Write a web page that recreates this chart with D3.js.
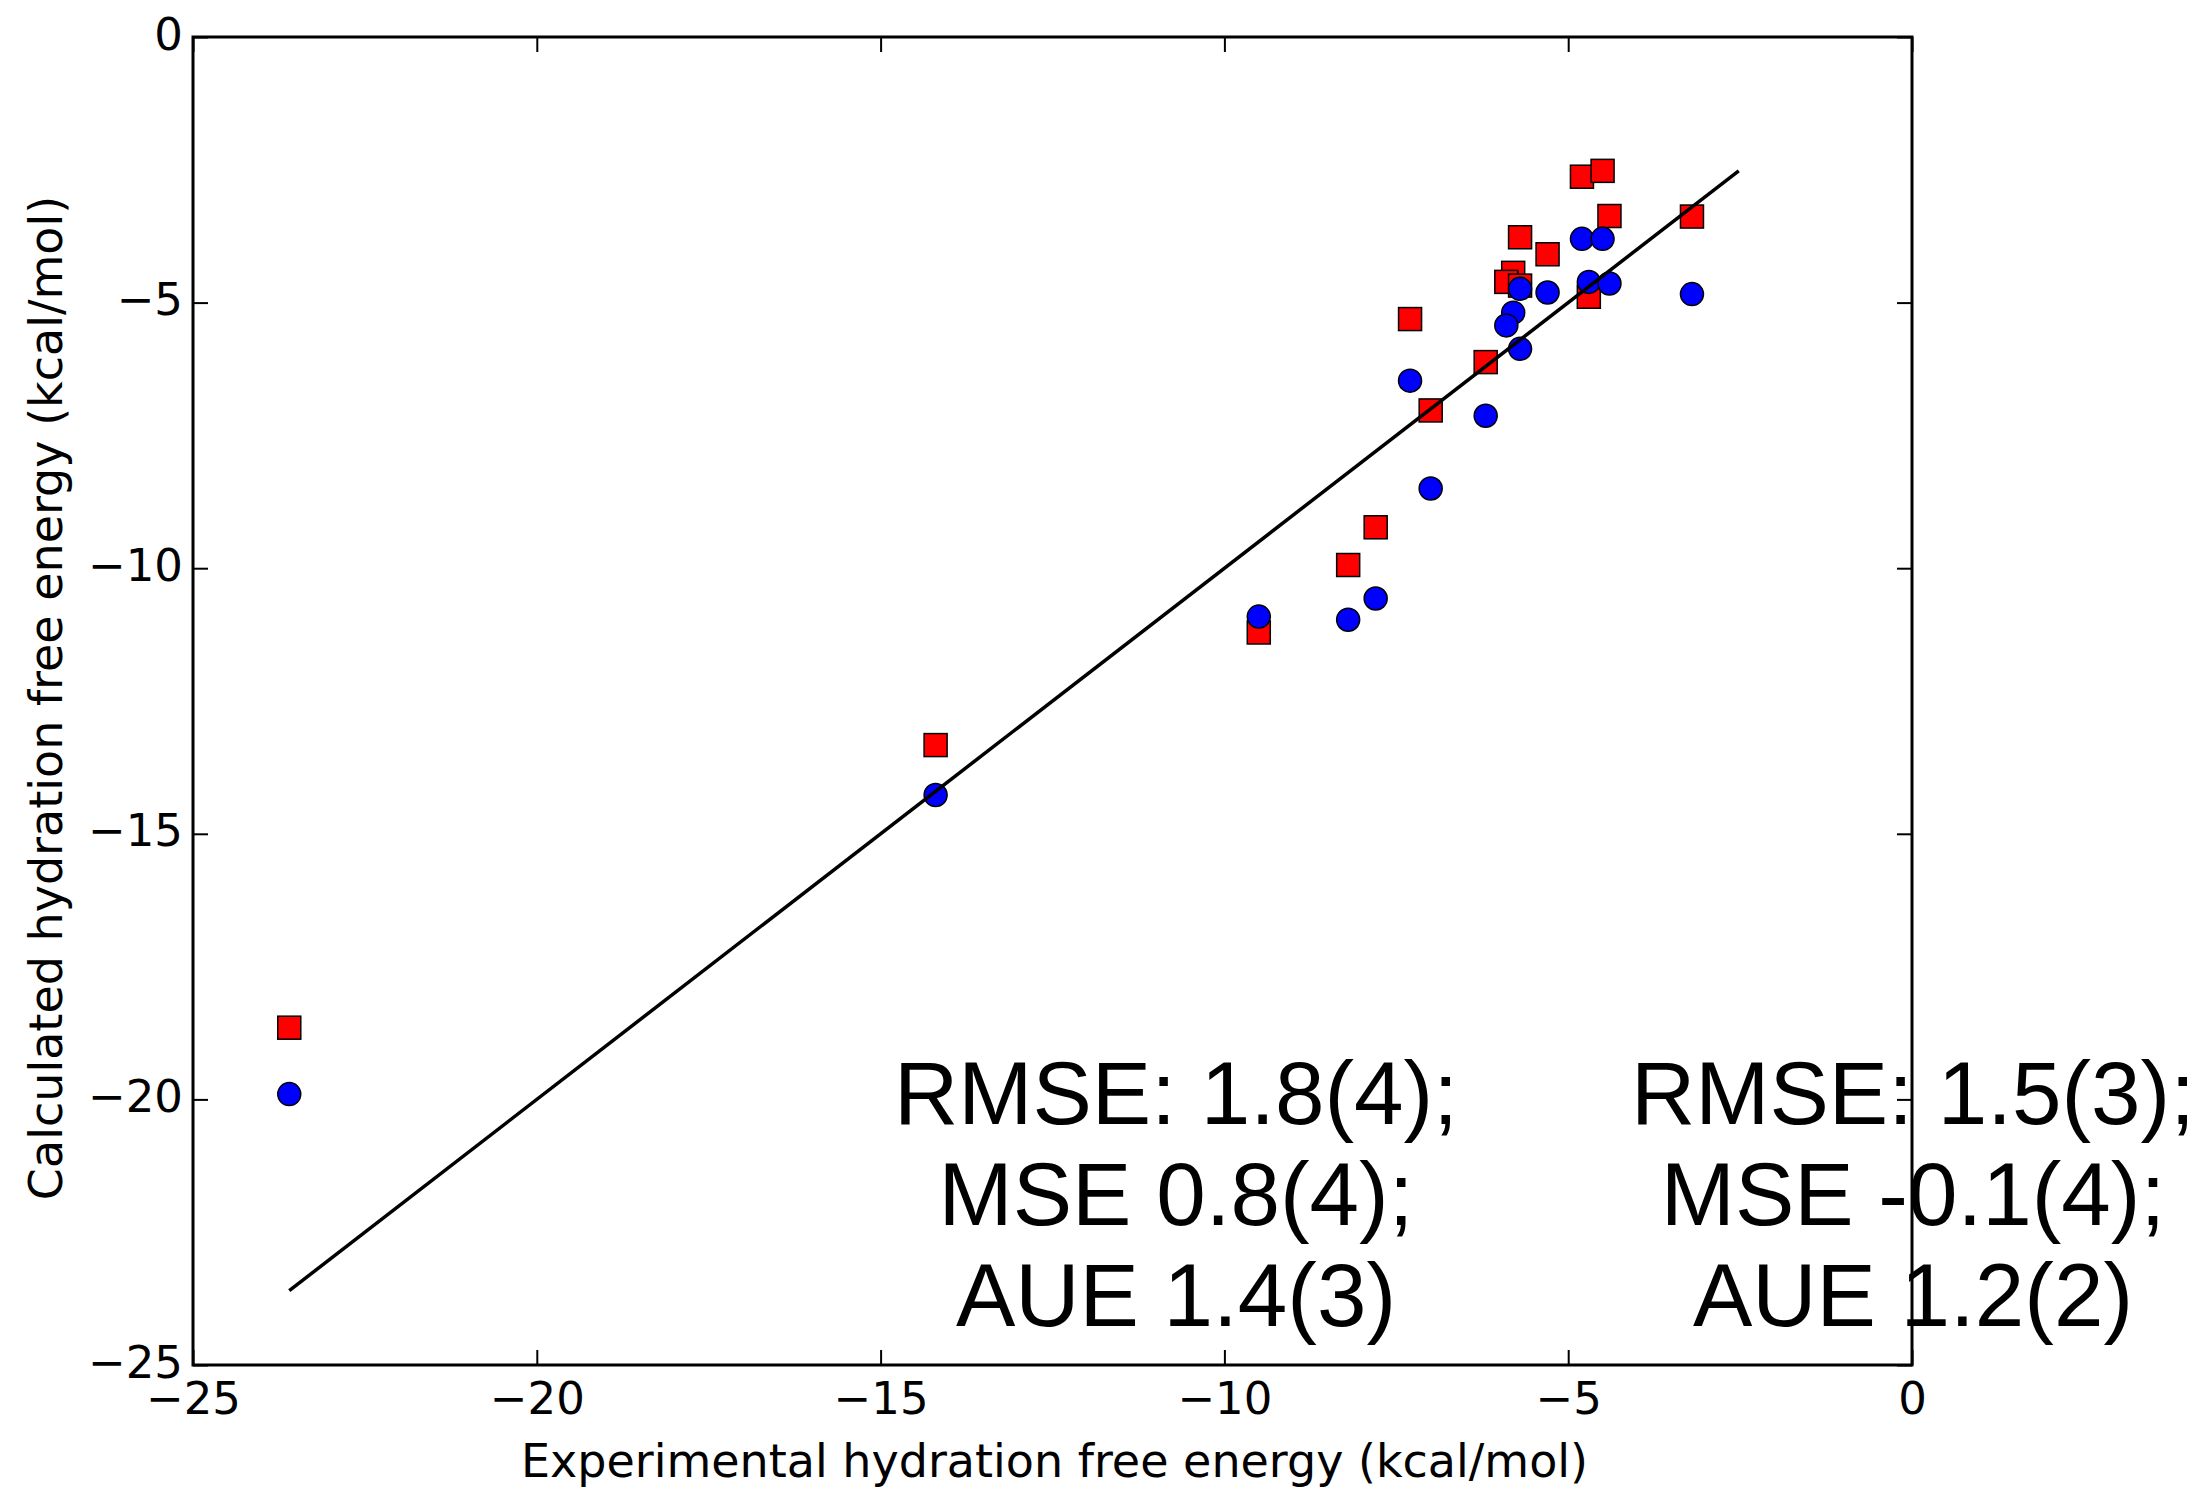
<!DOCTYPE html>
<html>
<head>
<meta charset="utf-8">
<script src="https://cdn.jsdelivr.net/npm/d3@7"></script>
<style>
  html, body { margin: 0; padding: 0; background: #ffffff; }
  svg { display: block; }
</style>
</head>
<body>
<svg id="chart" width="2203" height="1489"></svg>
<script>
// ---------------- DATA ----------------
const experimental = [-23.6, -14.2, -9.5, -8.2, -7.8, -7.3, -7.0, -6.2, -5.8, -5.9, -5.7, -5.7, -5.3, -4.8, -4.5, -4.7, -4.4, -3.2];
const calcSquares  = [-18.65, -13.33, -11.21, -9.94, -9.23, -5.31, -7.03, -6.12, -4.44, -4.61, -4.68, -3.77, -4.09, -2.63, -2.52, -4.89, -3.37, -3.38];
const calcCircles  = [-19.90, -14.27, -10.91, -10.97, -10.57, -6.47, -8.50, -7.13, -5.19, -5.43, -4.74, -5.87, -4.81, -3.80, -3.80, -4.61, -4.64, -4.84];

const xTicks = [-25, -20, -15, -10, -5, 0];
const yTicks = [-25, -20, -15, -10, -5, 0];

const statsSquares = ["RMSE: 1.8(4);", "MSE 0.8(4);", "AUE 1.4(3)"];
const statsCircles = ["RMSE: 1.5(3);", "MSE -0.1(4);", "AUE 1.2(2)"];

const xLabel = "Experimental hydration free energy (kcal/mol)";
const yLabel = "Calculated hydration free energy (kcal/mol)";

// ---------------- LAYOUT ----------------
const L = 193, R = 1912, T = 37, B = 1365;
const svg = d3.select("#chart");

const x = d3.scaleLinear().domain([-25, 0]).range([L, R]);
const y = d3.scaleLinear().domain([-25, 0]).range([B, T]);

const tickFont = "'DejaVu Sans', sans-serif";
const statFont = "'Liberation Sans', Arial, sans-serif";

// squares (drawn first)
const sq = 23;
svg.append("g").selectAll("rect")
  .data(experimental.map((e, i) => ({ e, c: calcSquares[i] })))
  .join("rect")
  .attr("x", d => x(d.e) - sq / 2)
  .attr("y", d => y(d.c) - sq / 2)
  .attr("width", sq).attr("height", sq)
  .attr("fill", "#ff0000")
  .attr("stroke", "#000").attr("stroke-width", 1.5);

// circles
svg.append("g").selectAll("circle")
  .data(experimental.map((e, i) => ({ e, c: calcCircles[i] })))
  .join("circle")
  .attr("cx", d => x(d.e))
  .attr("cy", d => y(d.c))
  .attr("r", 11.5)
  .attr("fill", "#0000ff")
  .attr("stroke", "#000").attr("stroke-width", 1.5);

// identity line from min to max of all values
const allVals = experimental.concat(calcSquares, calcCircles);
const lo = d3.min(allVals), hi = d3.max(allVals);
svg.append("path")
  .datum([lo, hi])
  .attr("d", d3.line().x(v => x(v)).y(v => y(v)))
  .attr("fill", "none")
  .attr("stroke", "#000")
  .attr("stroke-width", 3.5);

// statistics text
function statBlock(lines, cx) {
  const g = svg.append("g");
  g.selectAll("text").data(lines).join("text")
    .attr("x", cx)
    .attr("y", (d, i) => 1124 + i * 101)
    .attr("text-anchor", "middle")
    .attr("font-family", statFont)
    .attr("font-size", 89)
    .attr("fill", "#000")
    .text(d => d);
}
statBlock(statsSquares, 1176);
statBlock(statsCircles, 1913);

// axes (ticks inward on all sides)
const fmt = d => (d < 0 ? "\u2212" + Math.abs(d) : String(d));

const gx = svg.append("g").attr("transform", `translate(0,${B})`)
  .call(d3.axisBottom(x).tickValues(xTicks).tickFormat(fmt).tickSizeInner(-15).tickSizeOuter(0).tickPadding(17));
const gy = svg.append("g").attr("transform", `translate(${L},0)`)
  .call(d3.axisLeft(y).tickValues(yTicks).tickFormat(fmt).tickSizeInner(-15).tickSizeOuter(0).tickPadding(10));
const gt = svg.append("g").attr("transform", `translate(0,${T})`)
  .call(d3.axisTop(x).tickValues(xTicks).tickFormat("").tickSizeInner(-15).tickSizeOuter(0));
const gr = svg.append("g").attr("transform", `translate(${R},0)`)
  .call(d3.axisRight(y).tickValues(yTicks).tickFormat("").tickSizeInner(-15).tickSizeOuter(0));

[gx, gy, gt, gr].forEach(g => {
  g.select(".domain").remove();
  g.selectAll(".tick line").attr("stroke", "#000").attr("stroke-width", 2);
  g.selectAll("text").attr("font-family", tickFont).attr("font-size", 45).attr("fill", "#000");
});
gy.selectAll("text").attr("dy", "12px");

// frame
svg.append("rect")
  .attr("x", L).attr("y", T).attr("width", R - L).attr("height", B - T)
  .attr("fill", "none").attr("stroke", "#000").attr("stroke-width", 3);

// axis labels
svg.append("text")
  .attr("x", (L + R) / 2 + 2).attr("y", 1477)
  .attr("text-anchor", "middle")
  .attr("font-family", tickFont).attr("font-size", 46)
  .text(xLabel);
svg.append("text")
  .attr("transform", `translate(62,${(T + B) / 2 - 3}) rotate(-90)`)
  .attr("text-anchor", "middle")
  .attr("font-family", tickFont).attr("font-size", 46)
  .text(yLabel);
</script>
</body>
</html>
